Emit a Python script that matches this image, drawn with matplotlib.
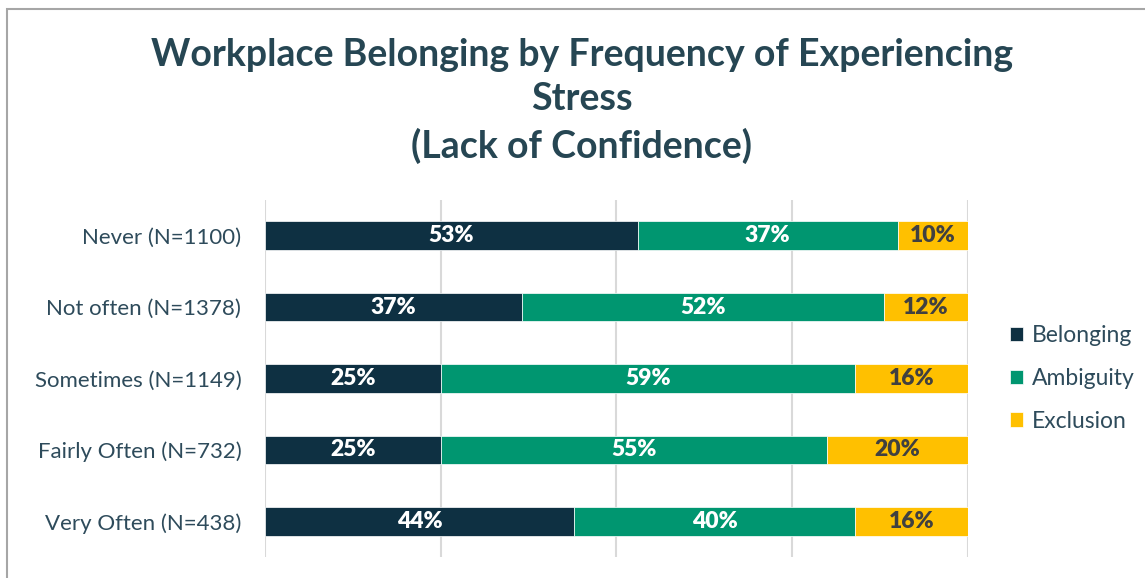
import matplotlib.pyplot as plt
from matplotlib.patches import Rectangle

# datos
categorias = ['Never (N=1100)', 'Not often (N=1378)', 'Sometimes (N=1149)',
              'Fairly Often (N=732)', 'Very Often (N=438)']
belonging = [53, 36.6, 25, 25, 44]
ambiguity = [37, 51.5, 59, 55, 40]
exclusion = [10, 11.9, 16, 20, 16]

series = [('Belonging', belonging, '#0E3042', 'white'),
          ('Ambiguity', ambiguity, '#009670', 'white'),
          ('Exclusion', exclusion, '#FFC000', '#404040')]

plt.rcParams['font.family'] = ['Lato', 'DejaVu Sans']

fig = plt.figure(figsize=(11.45, 5.78), dpi=100)
ax = fig.add_axes([0.2314, 0.0363, 0.614, 0.6176])

# marco del grafico
fig.patches.append(Rectangle((7 / 1145, -0.05), 1.1, 1 - 9 / 578 + 0.05,
                             transform=fig.transFigure, fill=False,
                             edgecolor='#A6A6A6', linewidth=1.5))

y = list(range(len(categorias)))
izq = [0] * len(categorias)
for nombre, vals, color, txt in series:
    bars = ax.barh(y, vals, left=izq, height=0.4, color=color, label=nombre,
                   edgecolor='white', linewidth=0.5, zorder=3)
    for b, v in zip(bars, vals):
        ax.text(b.get_x() + b.get_width() / 2, b.get_y() + b.get_height() / 2,
                f'{v:.0f}%', ha='center', va='center', color=txt,
                fontsize=16.5, fontweight='heavy', zorder=4)
    izq = [a + b for a, b in zip(izq, vals)]

ax.set_xlim(0, 100)
ax.set_ylim(len(categorias) - 0.5, -0.5)
ax.set_yticks(y)
ax.set_yticklabels(categorias, fontsize=16, color='#2E4B5B')
ax.set_xticks([0, 25, 50, 75, 100])
ax.tick_params(axis='x', length=0, labelbottom=False)
ax.tick_params(axis='y', length=0, pad=17)
ax.grid(axis='x', color='#D9D9D9', linewidth=1.5)
ax.set_axisbelow(True)
for s in ax.spines.values():
    s.set_visible(False)

fig.suptitle('Workplace Belonging by Frequency of Experiencing\nStress\n(Lack of Confidence)',
             x=0.508, y=0.935, fontsize=27, fontweight='bold', color='#264653',
             linespacing=1.38)

leg = ax.legend(loc='center left', bbox_to_anchor=(1.03, 0.5), frameon=False,
                fontsize=16.5, handlelength=0.6, handleheight=0.6,
                handletextpad=0.35, labelspacing=0.95)
for t in leg.get_texts():
    t.set_color('#2E4B5B')

plt.savefig('out.png', dpi=100)
